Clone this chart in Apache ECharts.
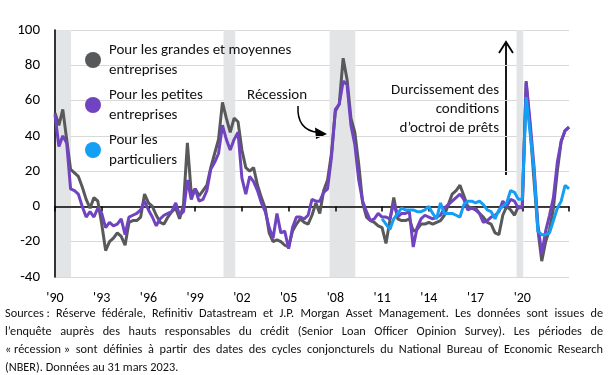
<!DOCTYPE html>
<html><head><meta charset="utf-8">
<script src="https://cdn.jsdelivr.net/npm/echarts@6/dist/echarts.min.js"></script>
<style>html,body{margin:0;padding:0;background:#fff}#c{width:609px;height:375px}</style>
</head><body><div id="c"></div>
<script>
// ---- data (quarterly, first point = 1990 Q1) ----
const firstYear = 1990;
const seriesNames = ['Pour les grandes et moyennes entreprises', 'Pour les petites entreprises', 'Pour les particuliers'];
const largeFirms = [
  53, 46, 55, 38, 21, 19, 17, 11, 4, -1,
  5, 3, -10, -25, -20, -18, -15, -17, -22, -9,
  -8, -8, -6, 7, 2, 0, -5, -9, -10, -6,
  -3, -1, -7, 1, 36, 7, 10, 6, 9, 12,
  22, 30, 38, 59, 50, 42, 50, 48, 32, 22,
  20, 22, 12, 5, -1, -15, -20, -19, -20, -22,
  -23, -14, -10, -7, -9, -10, -5, 2, -4, 9,
  15, 30, 54, 58, 84, 72, 50, 42, 24, 2,
  -6, -8, -9, -11, -12, -21, -8, 5, -7, -8,
  -8, -7, -14, -13, -10, -10, -9, -10, -9, -8,
  -5, 1, 7, 9, 12, 6, 0, -1, -1, -4,
  -6, -9, -10, -15, -16, -5, 0, -2, -5, 0,
  -1, 70, 45, 15, -13, -31, -20, -13, -1, 20,
  37, 43, 45
];
const smallFirms = [
  52, 34, 40, 36, 10, 9, 7, 0, -6, -3,
  -6, -1, -4, -12, -9, -11, -10, -7, -16, -6,
  -5, -4, -2, 3, -2, -6, -11, -7, -5, -4,
  -3, 2, -5, -3, 15, 4, 10, 3, 4, 9,
  21, 25, 30, 46, 38, 32, 38, 42, 16, 7,
  17, 14, 9, 2, -3, -12, -18, -4, -15, -14,
  -24, -12, -6, -6, -7, -5, 4, 3, 3, 8,
  10, 28, 55, 58, 71, 69, 46, 35, 15, 3,
  -3, -8, -7, -4, -6, -6, -7, 2, -6, -4,
  -4, -3, -23, -12, -7, -5, -6, -7, -6, -5,
  -1, 1, 3, 5, 7, 4, -2, -1, -2, -4,
  -9, -8, -6, -5, -3, 3, 0, 4, 3, -1,
  0, 71, 48, 23, -10, -27, -14, -5, 5, 25,
  37, 43, 45
];
const consumersStartIndex = 84; // 2011 Q1
const consumers = [
  -7, -10, -13, -7, -4, -1,
  -2, -2, -2, -3, -3, -2, 0, -4, -7, 2,
  -4, -4, -4, -5, -6, 1, 3, 3, 2, 3,
  1, -2, -3, -7, -2, 0, 2, 9, 8, 4,
  4, 62, 42, 21, -14, -16, -16, -15, -8, -1,
  3, 12, 10
];
const recessions = [[1990.07, 1991.03], [2000.82, 2001.57], [2007.63, 2009.28], [2019.63, 2020.06]];
const yMin = -40, yMax = 100, yStep = 20;
const xMin = 1990, xMax = 2023, xStep = 3;
const footerLines = [
  'Sources\u00a0: Réserve fédérale, Refinitiv Datastream et J.P. Morgan Asset Management. Les données sont issues de',
  'l’enquête auprès des hauts responsables du crédit (Senior Loan Officer Opinion Survey). Les périodes de',
  '«\u00a0récession\u00a0» sont définies à partir des dates des cycles conjoncturels du National Bureau of Economic Research',
  '(NBER). Données au 31 mars 2023.'
];

const FONT = 'Carlito, Lato, sans-serif';
const toPairs = (arr, start) => arr.map((v, i) => [firstYear + (start + i) / 4, v]);
const legendText = {
  'Pour les grandes et moyennes entreprises': 'Pour les grandes et moyennes\nentreprises',
  'Pour les petites entreprises': 'Pour les petites\nentreprises',
  'Pour les particuliers': 'Pour les\nparticuliers'
};

// justified footer as real text (horizontally condensed to mimic a narrow font)
const ctx = document.createElement('canvas').getContext('2d');
const footerLeft = 5, footerWidth = 598;
const fs = 12.3;
const ffont = fs + 'px ' + FONT;
ctx.font = ffont;
const w3 = ctx.measureText(footerLines[2]).width;
const sx = Math.min(1, (footerWidth - 3) / w3);
const footerGraphics = [];
const footerY = [314, 332, 350, 368];
footerLines.forEach((line, li) => {
  const words = line.split(' ');
  const widths = words.map(w => ctx.measureText(w).width * sx);
  const sum = widths.reduce((a, b) => a + b, 0);
  const justify = li < footerLines.length - 1;
  const gap = justify ? (footerWidth - sum) / (words.length - 1) : ctx.measureText(' ').width * sx;
  let x = footerLeft;
  words.forEach((w, wi) => {
    footerGraphics.push({type: 'text', x: x, y: footerY[li], scaleX: sx,
      style: {text: w, x: 0, y: 0, font: ffont, fill: '#111', verticalAlign: 'middle'}});
    x += widths[wi] + gap;
  });
});

const chart = echarts.init(document.getElementById('c'), null, {renderer: 'canvas'});
chart.setOption({
  animation: false,
  backgroundColor: '#fff',
  grid: {left: 55, right: 40, top: 30, bottom: 98},
  legend: {
    data: seriesNames, orient: 'vertical', left: 80, top: 35, icon: 'circle',
    itemWidth: 16, itemHeight: 16, itemGap: 5,
    formatter: n => legendText[n],
    textStyle: {fontSize: 15, lineHeight: 20, color: '#111', fontFamily: FONT, padding: [0, 0, 0, 3]}
  },
  xAxis: [
    {type: 'value', min: xMin, max: xMax, interval: xStep, z: 1.5,
      axisLine: {onZero: true, lineStyle: {color: '#000', width: 1.6}},
      axisTick: {show: true, length: 5, lineStyle: {color: '#000', width: 1.5}},
      axisLabel: {show: false}, splitLine: {show: false}},
    {type: 'value', min: xMin, max: xMax, interval: xStep, position: 'bottom',
      axisLine: {show: false, onZero: false}, axisTick: {show: false}, splitLine: {show: false},
      axisLabel: {margin: 14, fontSize: 14, color: '#000', fontFamily: FONT, showMaxLabel: false,
        formatter: v => "'" + String(v).slice(2)}}
  ],
  yAxis: {type: 'value', min: yMin, max: yMax, interval: yStep,
    axisLine: {show: true, onZero: false, lineStyle: {color: '#000', width: 1.6}},
    axisTick: {show: false},
    axisLabel: {margin: 15, fontSize: 15, color: '#000', fontFamily: FONT},
    splitLine: {lineStyle: {color: '#d9d9d9', width: 1}}},
  series: [
    {type: 'line', name: 'Récession', data: [], z: 1, silent: true,
      markArea: {silent: true, itemStyle: {color: '#e3e4e6'},
        data: recessions.map(r => [{xAxis: r[0]}, {xAxis: r[1]}])}},
    {type: 'line', name: seriesNames[0], data: toPairs(largeFirms, 0), showSymbol: false, symbol: 'none',
      color: '#58595b', lineStyle: {width: 3, color: '#58595b'}, z: 2},
    {type: 'line', name: seriesNames[1], data: toPairs(smallFirms, 0), showSymbol: false, symbol: 'none',
      color: '#7043c0', lineStyle: {width: 3, color: '#7043c0'}, z: 2},
    {type: 'line', name: seriesNames[2], data: toPairs(consumers, consumersStartIndex), showSymbol: false, symbol: 'none',
      color: '#149ff5', lineStyle: {width: 3, color: '#149ff5'}, z: 2}
  ],
  graphic: [
    {type: 'text', style: {text: 'Récession', x: 247, y: 95, font: '15px ' + FONT, fill: '#111', verticalAlign: 'middle'}},
    {type: 'bezierCurve', shape: {x1: 298, y1: 106, cpx1: 297, cpy1: 124, cpx2: 305, cpy2: 131, x2: 318, y2: 132.5},
      style: {stroke: '#000', lineWidth: 1.5, fill: null}},
    {type: 'polygon', shape: {points: [[327, 134], [315, 127.5], [316, 139]]}, style: {fill: '#000'}},
    {type: 'text', style: {text: 'Durcissement des\nconditions\nd’octroi de prêts', x: 499, y: 81, font: '15px ' + FONT,
      lineHeight: 19, fill: '#111', align: 'right', verticalAlign: 'top'}},
    {type: 'line', shape: {x1: 506, y1: 175, x2: 506, y2: 42}, style: {stroke: '#000', lineWidth: 1.8}},
    {type: 'polyline', shape: {points: [[499, 53], [506, 42], [513, 53]]}, style: {stroke: '#000', lineWidth: 1.8, fill: null}}
  ].concat(footerGraphics)
});
</script></body></html>
